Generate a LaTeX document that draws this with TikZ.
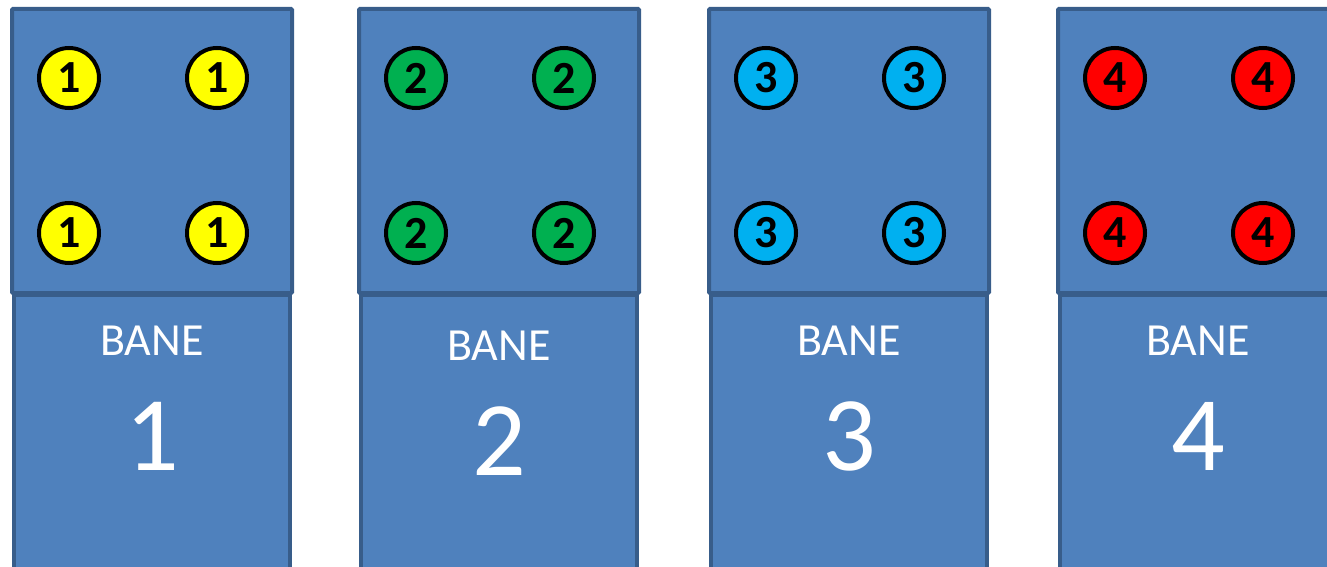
\documentclass[tikz,border=0pt]{standalone}
\usepackage{fontspec}
\setmainfont{Carlito}
\usepackage{tikz}
\usetikzlibrary{positioning,calc}
\definecolor{laneblue}{HTML}{4F81BD}
\definecolor{laneedge}{HTML}{385D8A}
\definecolor{dotyellow}{HTML}{FFFF00}
\definecolor{dotgreen}{HTML}{00B050}
\definecolor{dotcyan}{HTML}{00B0F0}
\definecolor{dotred}{HTML}{FF0000}
\tikzset{
  topbox/.style ={draw=laneedge, fill=laneblue, line width=4pt, rounded corners=1pt,
                  minimum width=280pt, minimum height=284pt, inner sep=0pt, anchor=north west},
  botbox/.style ={draw=laneedge, fill=laneblue, line width=4pt,
                  minimum width=276pt, minimum height=320pt, inner sep=0pt, anchor=north},
  dot/.style    ={circle, draw=black, line width=4pt, minimum size=60pt, inner sep=0pt,
                  font=\fontsize{46}{46}\selectfont\bfseries},
  lanetxt/.style={text=white, inner sep=0pt, font=\fontsize{46}{46}\selectfont},
  lanenum/.style={text=white, inner sep=0pt, font=\fontsize{106}{106}\selectfont},
}
\begin{document}
\begin{tikzpicture}[x=1pt,y=1pt]
\useasboundingbox (0,0) rectangle (1327,-567);
\clip (0,0) rectangle (1327,-567);

% four lanes: left edge / dot colour / text shift
\foreach \i/\xl/\col/\dy in {1/10/dotyellow/0, 2/357/dotgreen/-5, 3/707/dotcyan/0, 4/1056/dotred/0}{
  \node[topbox] (top\i) at (\xl,-7) {};
  \node[botbox] (bot\i) at ([yshift=2pt]top\i.south) {};
  % dots in the top box
  \node[dot,fill=\col] (c\i-1) at ($(top\i.north west)+(59,-71)$) {\i};
  \node[dot,fill=\col] (c\i-2) at ($(top\i.north west)+(207,-71)$) {\i};
  \node[dot,fill=\col] (c\i-3) at ($(top\i.north west)+(59,-226)$) {\i};
  \node[dot,fill=\col] (c\i-4) at ($(top\i.north west)+(207,-226)$) {\i};
  % lane label
  \node[lanetxt] (lbl\i) at ($(bot\i.north)+(0,-48+\dy)$) {BANE};
  \node[lanenum] (num\i) at ($(bot\i.north)+(0,-143+\dy)$) {\i};
}
\end{tikzpicture}
\end{document}
